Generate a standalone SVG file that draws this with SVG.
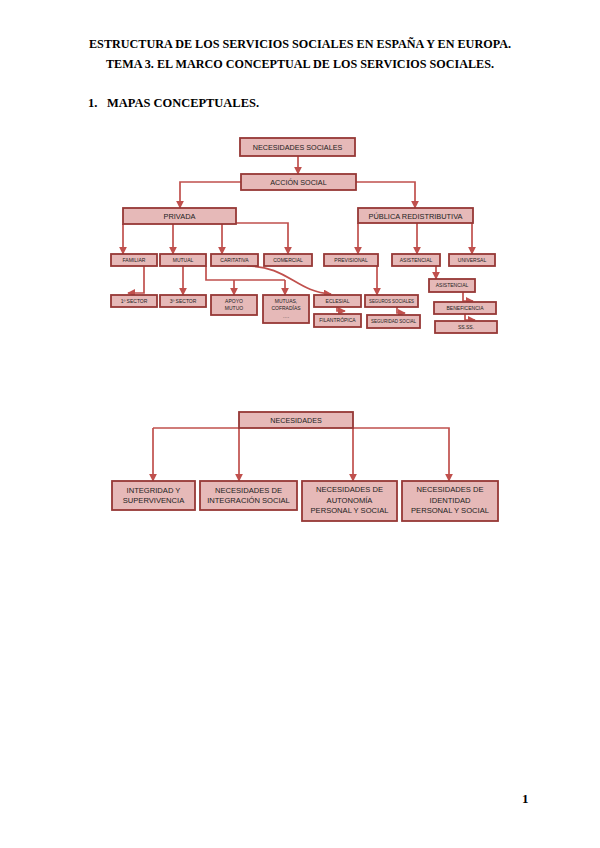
<svg xmlns="http://www.w3.org/2000/svg" width="600" height="848" viewBox="0 0 600 848">
<style>
.hd{font-family:"Liberation Serif","Times New Roman",serif;font-weight:bold;font-size:12.5px;fill:#000}
.bx{fill:#e6b9b8;stroke:#963836;stroke-width:1.8}
.t{font-family:"Liberation Sans",Arial,sans-serif;fill:#222;text-anchor:middle}
.t1{font-size:7.2px}
.t2{font-size:7.4px}
.t3{font-size:5px}
.t4{font-size:7.6px}
.c{fill:none;stroke:#c0504d;stroke-width:1.7}
</style>
<defs>
<marker id="ar" viewBox="0 0 10 10" refX="9" refY="5" markerWidth="8" markerHeight="8" markerUnits="userSpaceOnUse" orient="auto">
<path d="M0,0 L10,5 L0,10 z" fill="#c0504d"/>
</marker>
</defs>
<rect width="600" height="848" fill="#fff"/>
<text class="hd" x="89" y="48" textLength="422" lengthAdjust="spacingAndGlyphs">ESTRUCTURA DE LOS SERVICIOS SOCIALES EN ESPAÑA Y EN EUROPA.</text>
<text class="hd" x="106" y="68" textLength="388" lengthAdjust="spacingAndGlyphs">TEMA 3. EL MARCO CONCEPTUAL DE LOS SERVICIOS SOCIALES.</text>
<text class="hd" x="88" y="107">1.</text>
<text class="hd" x="107" y="107" textLength="152" lengthAdjust="spacingAndGlyphs">MAPAS CONCEPTUALES.</text>
<text class="hd" x="522" y="803" style="font-size:13px">1</text>

<g id="connectors">
<path class="c" marker-end="url(#ar)" d="M298,156 V174"/>
<path class="c" marker-end="url(#ar)" d="M241,182 H180 V208"/>
<path class="c" marker-end="url(#ar)" d="M356,182 H415 V208"/>
<path class="c" marker-end="url(#ar)" d="M123,224 V254"/>
<path class="c" marker-end="url(#ar)" d="M173,224 V254"/>
<path class="c" marker-end="url(#ar)" d="M222,224 V254"/>
<path class="c" marker-end="url(#ar)" d="M236,223 H288 V254"/>
<path class="c" marker-end="url(#ar)" d="M358,223 V254"/>
<path class="c" marker-end="url(#ar)" d="M417,223 V254"/>
<path class="c" marker-end="url(#ar)" d="M472,223 V254"/>
<path class="c" marker-end="url(#ar)" d="M144,266 V293 H128"/>
<path class="c" marker-end="url(#ar)" d="M183,266 V295"/>
<path class="c" d="M206,266 V280 H285"/>
<path class="c" marker-end="url(#ar)" d="M234,280 V295"/>
<path class="c" marker-end="url(#ar)" d="M285,280 V295"/>
<path class="c" marker-end="url(#ar)" d="M247,266 C288,266 296,292 331,294"/>
<path class="c" marker-end="url(#ar)" d="M337,307 V311 H345"/>
<path class="c" marker-end="url(#ar)" d="M377,266 V295"/>
<path class="c" marker-end="url(#ar)" d="M397,307 V313 H405"/>
<path class="c" marker-end="url(#ar)" d="M436,266 V279"/>
<path class="c" marker-end="url(#ar)" d="M463,292 V301 H473"/>
<path class="c" marker-end="url(#ar)" d="M465,314 V320 H475"/>

<path class="c" d="M239,428 H153"/>
<path class="c" marker-end="url(#ar)" d="M153,428 V481"/>
<path class="c" marker-end="url(#ar)" d="M239,428 V481"/>
<path class="c" marker-end="url(#ar)" d="M353,428 V481"/>
<path class="c" marker-end="url(#ar)" d="M353,428 H449 V481"/>
</g>

<g id="n-necesidades-sociales"><rect class="bx" x="240" y="138" width="115" height="18"/><text class="t t1" x="297.5" y="150">NECESIDADES SOCIALES</text></g>
<g id="n-accion-social"><rect class="bx" x="241" y="174" width="115" height="16"/><text class="t t1" x="298.5" y="185">ACCIÓN SOCIAL</text></g>
<g id="n-privada"><rect class="bx" x="123" y="208" width="113" height="16"/><text class="t t2" x="179.5" y="219">PRIVADA</text></g>
<g id="n-publica"><rect class="bx" x="358" y="208" width="115" height="15"/><text class="t t2" x="415.5" y="218.5">PÚBLICA REDISTRIBUTIVA</text></g>

<g id="n-familiar"><rect class="bx" x="111" y="254" width="46" height="12"/><text class="t t3" x="134" y="261.8">FAMILIAR</text></g>
<g id="n-mutual"><rect class="bx" x="160" y="254" width="46" height="12"/><text class="t t3" x="183" y="261.8">MUTUAL</text></g>
<g id="n-caritativa"><rect class="bx" x="211" y="254" width="47" height="12"/><text class="t t3" x="234.5" y="261.8">CARITATIVA</text></g>
<g id="n-comercial"><rect class="bx" x="264" y="254" width="48" height="12"/><text class="t t3" x="288" y="261.8">COMERCIAL</text></g>
<g id="n-previsional"><rect class="bx" x="324" y="254" width="54" height="12"/><text class="t t3" x="351" y="261.8">PREVISIONAL</text></g>
<g id="n-asistencial"><rect class="bx" x="392" y="254" width="48" height="12"/><text class="t t3" x="416" y="261.8">ASISTENCIAL</text></g>
<g id="n-universal"><rect class="bx" x="449" y="254" width="46" height="12"/><text class="t t3" x="472" y="261.8">UNIVERSAL</text></g>

<g id="n-1sector"><rect class="bx" x="111" y="295" width="46" height="12"/><text class="t t3" x="134" y="302.8">1º SECTOR</text></g>
<g id="n-3sector"><rect class="bx" x="160" y="295" width="46" height="12"/><text class="t t3" x="183" y="302.8">3º SECTOR</text></g>
<g id="n-apoyo"><rect class="bx" x="211" y="295" width="46" height="20"/><text class="t t3" x="234" y="302.5">APOYO</text><text class="t t3" x="234" y="310">MUTUO</text></g>
<g id="n-mutuas"><rect class="bx" x="263" y="295" width="46" height="28"/><text class="t t3" x="286" y="302.5">MUTUAS,</text><text class="t t3" x="286" y="310">COFRADÍAS</text><text class="t t3" x="286" y="317.5">….</text></g>
<g id="n-eclesial"><rect class="bx" x="314" y="295" width="47" height="12"/><text class="t t3" x="337.5" y="302.8">ECLESIAL</text></g>
<g id="n-filantropica"><rect class="bx" x="314" y="314" width="47" height="13"/><text class="t t3" x="337.5" y="322.2">FILANTRÓPICA</text></g>
<g id="n-seguros"><rect class="bx" x="365" y="295" width="53" height="12"/><text class="t t3" x="391.5" y="302.8" textLength="45" lengthAdjust="spacingAndGlyphs">SEGUROS SOCIALES</text></g>
<g id="n-seguridad"><rect class="bx" x="367" y="315" width="53" height="13"/><text class="t t3" x="393.5" y="323.2" textLength="45" lengthAdjust="spacingAndGlyphs">SEGURIDAD SOCIAL</text></g>
<g id="n-asistencial2"><rect class="bx" x="429" y="279" width="46" height="13"/><text class="t t3" x="452" y="287.2">ASISTENCIAL</text></g>
<g id="n-beneficencia"><rect class="bx" x="434" y="302" width="62" height="12"/><text class="t t3" x="465" y="309.8">BENEFICENCIA</text></g>
<g id="n-ssss"><rect class="bx" x="435" y="321" width="62" height="12"/><text class="t t3" x="466" y="328.8">SS.SS.</text></g>

<g id="n-necesidades"><rect class="bx" x="239" y="412" width="114" height="16"/><text class="t t1" x="296" y="423">NECESIDADES</text></g>
<g id="n-integridad"><rect class="bx" x="112" y="481" width="83" height="29"/><text class="t t4" x="153.5" y="493">INTEGRIDAD Y</text><text class="t t4" x="153.5" y="503">SUPERVIVENCIA</text></g>
<g id="n-integracion"><rect class="bx" x="200" y="481" width="97" height="29"/><text class="t t4" x="248.5" y="493">NECESIDADES DE</text><text class="t t4" x="248.5" y="503">INTEGRACIÓN SOCIAL</text></g>
<g id="n-autonomia"><rect class="bx" x="302" y="481" width="95" height="40"/><text class="t t4" x="349.5" y="492">NECESIDADES DE</text><text class="t t4" x="349.5" y="502.5">AUTONOMÍA</text><text class="t t4" x="349.5" y="513">PERSONAL Y SOCIAL</text></g>
<g id="n-identidad"><rect class="bx" x="402" y="481" width="96" height="40"/><text class="t t4" x="450" y="492">NECESIDADES DE</text><text class="t t4" x="450" y="502.5">IDENTIDAD</text><text class="t t4" x="450" y="513">PERSONAL Y SOCIAL</text></g>
</svg>
